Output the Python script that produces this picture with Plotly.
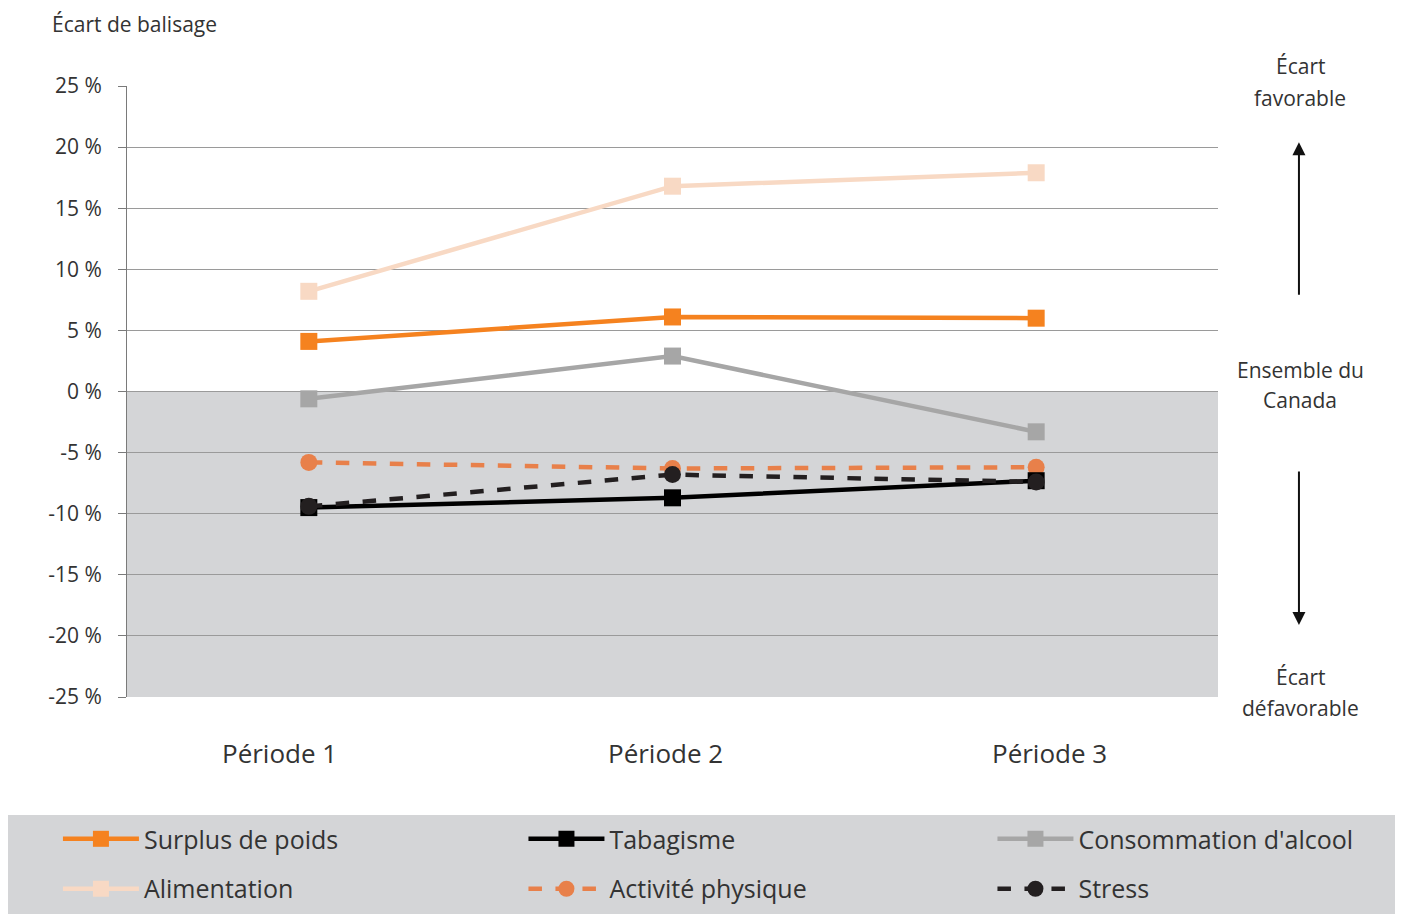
import plotly.graph_objects as go

periods = ["Période 1", "Période 2", "Période 3"]
surplus = [4.1, 6.1, 6.0]
tabagisme = [-9.5, -8.7, -7.3]
alcool = [-0.6, 2.9, -3.3]
alimentation = [8.2, 16.8, 17.9]
activite = [-5.8, -6.3, -6.2]
stress = [-9.4, -6.8, -7.4]
yticks = [25, 20, 15, 10, 5, 0, -5, -10, -15, -20, -25]
ytick_text = [f"{v} %" for v in yticks]

FONT = "Open Sans"
TXT = "#333333"
xs = [0, 1, 2]

series = [
    ("Surplus de poids", surplus, "#f5821f", "solid", "square"),
    ("Tabagisme", tabagisme, "#000000", "solid", "square"),
    ("Consommation d'alcool", alcool, "#a6a6a6", "solid", "square"),
    ("Alimentation", alimentation, "#f8d9c4", "solid", "square"),
    ("Activité physique", activite, "#e8804a", "dash", "circle"),
    ("Stress", stress, "#231f20", "dash", "circle"),
]
legend_ids = ["legend", "legend2", "legend3", "legend4", "legend5", "legend6"]
legend_x = [0.0358, 0.3695, 0.7057, 0.0358, 0.3695, 0.7057]
legend_y = [0.1081, 0.1081, 0.1081, 0.0530, 0.0530, 0.0530]

fig = go.Figure()
draw_order = [3, 0, 2, 4, 1, 5]
traces = {}
for i, (name, vals, col, dash, sym) in enumerate(series):
    traces[i] = go.Scatter(
        x=xs, y=vals, name=name, mode="lines+markers",
        line=dict(color=col, width=4.5, dash=dash),
        marker=dict(symbol=sym, size=17, color=col),
        legend=legend_ids[i],
    )
for i in draw_order:
    fig.add_trace(traces[i])

shapes = [
    dict(type="rect", xref="x", yref="y", x0=-0.5, x1=2.5, y0=-25, y1=0,
         fillcolor="#d4d5d7", line=dict(width=0), layer="below"),
    dict(type="rect", xref="paper", yref="paper", x0=-0.11, x1=1.17,
         y0=-0.355, y1=-0.193, fillcolor="#d4d5d7", line=dict(width=0), layer="below"),
]

annotations = [
    dict(text="Écart de balisage", xref="paper", yref="paper", x=-0.0706, y=1.1015,
         xanchor="left", yanchor="middle", showarrow=False, font=dict(size=21, color=TXT)),
    dict(text="", xref="paper", yref="paper", x=1.0742, y=0.908, ax=0, ay=154,
         showarrow=True, arrowhead=2, arrowsize=1.3, arrowwidth=2, arrowcolor="#111"),
    dict(text="", xref="paper", yref="paper", x=1.0742, y=0.118, ax=0, ay=-155,
         showarrow=True, arrowhead=2, arrowsize=1.3, arrowwidth=2, arrowcolor="#111"),
]
side_lines = [("Écart", 1.0327), ("favorable", 0.9804), ("Ensemble du", 0.5352),
              ("Canada", 0.4861), ("Écart", 0.0327), ("défavorable", -0.018)]
for t, yy in side_lines:
    annotations.append(dict(text=t, xref="paper", yref="paper", x=1.0752, y=yy,
                            xanchor="center", yanchor="middle", showarrow=False,
                            font=dict(size=21, color=TXT)))
label_x = [-0.082, 0.982, 2.038]
for lx, p in zip(label_x, periods):
    annotations.append(dict(text=p, xref="x", yref="paper", x=lx, y=-0.0917,
                            xanchor="center", yanchor="middle", showarrow=False,
                            font=dict(size=26, color=TXT)))

legends = {}
for lid, lx, ly in zip(legend_ids, legend_x, legend_y):
    legends[lid] = dict(orientation="h", xref="container", yref="container",
                        x=lx, y=ly, xanchor="left", yanchor="top",
                        bgcolor="rgba(0,0,0,0)", font=dict(size=25, color=TXT),
                        itemwidth=76)

fig.update_layout(
    width=1395, height=906,
    margin=dict(l=119, r=185, t=78, b=217),
    paper_bgcolor="white", plot_bgcolor="white",
    font=dict(family=FONT, color=TXT),
    shapes=shapes, annotations=annotations,
    showlegend=True,
    **legends,
    xaxis=dict(range=[-0.5, 2.5], showticklabels=False, showgrid=False, zeroline=False,
               showline=False, fixedrange=True),
    yaxis=dict(range=[-25, 25], tickvals=yticks, ticktext=ytick_text,
               showgrid=True, gridcolor="#9a9a9a", gridwidth=1, zeroline=False,
               showline=True, linecolor="#7a7a7a", linewidth=1,
               ticks="outside", ticklen=8, tickcolor="#7a7a7a",
               tickfont=dict(size=21, color=TXT), ticklabelstandoff=12),
)

fig.write_html("out.html")
